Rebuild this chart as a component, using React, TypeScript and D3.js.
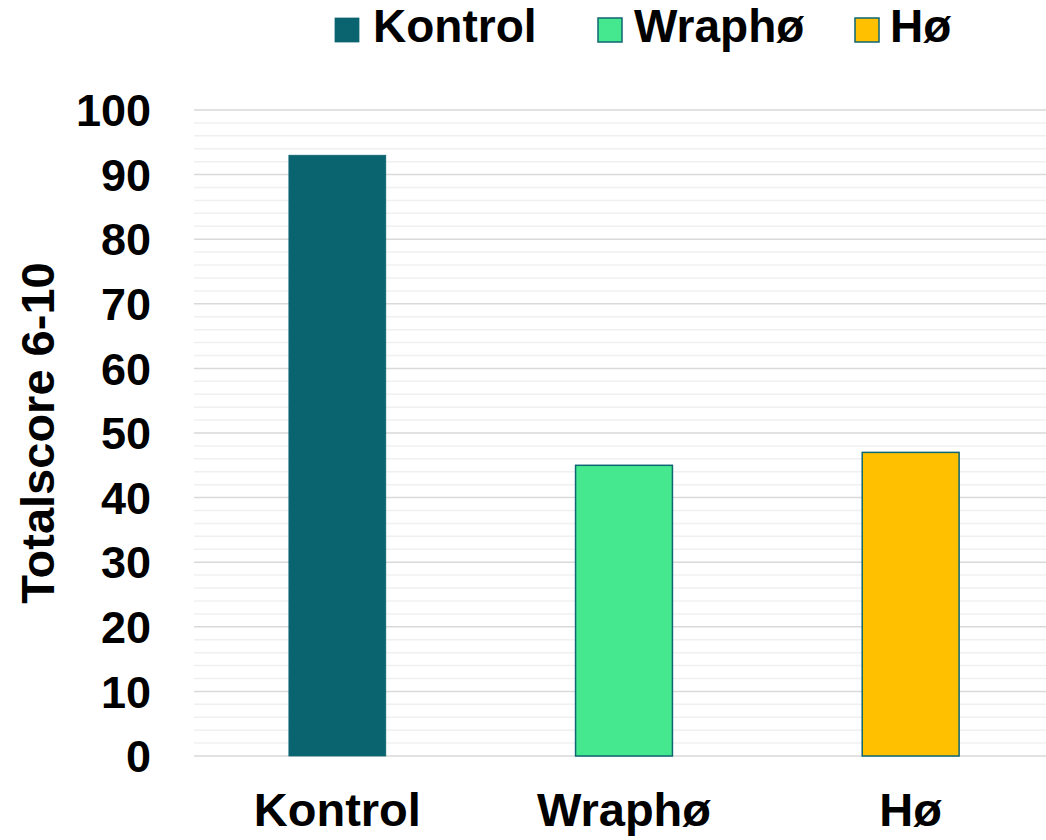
import React from "react";
import * as d3 from "d3";

const categories = ["Kontrol", "Wraphø", "Hø"];
const values = [93, 45, 47];
const colors = ["#0A6470", "#45E88F", "#FFC000"];
const strokes = ["#0A6470", "#0E6673", "#0E6673"];
const majorTicks = [0, 10, 20, 30, 40, 50, 60, 70, 80, 90, 100];
const minorTicks = d3.range(0, 101, 2);
const yTitle = "Totalscore 6-10";

const W = 1046;
const H = 840;
const FONT = "'Liberation Sans', Arial, sans-serif";

export default function App() {
  const x = d3
    .scaleBand<string>()
    .domain(categories)
    .range([194, 1054])
    .paddingInner(0.662)
    .paddingOuter(0.331);
  const y = d3.scaleLinear().domain([0, 100]).range([756, 110]);

  const legendItems = [
    { sq: 335, tx: 373 },
    { sq: 598, tx: 634 },
    { sq: 855, tx: 890 },
  ];

  return (
    <svg
      width={W}
      height={H}
      style={{ position: "absolute", left: 0, top: 0, background: "#fff" }}
      fontFamily={FONT}
    >
      {minorTicks
        .filter((t) => t % 10 !== 0)
        .map((t) => (
          <line key={"m" + t} x1={194} x2={W} y1={y(t)} y2={y(t)} stroke="#F0F0F0" strokeWidth={1.5} />
        ))}
      {majorTicks.map((t) => (
        <line key={"g" + t} x1={194} x2={W} y1={y(t)} y2={y(t)} stroke="#D9D9D9" strokeWidth={1.5} />
      ))}
      {categories.map((c, i) => (
        <rect
          key={c}
          x={x(c)}
          y={y(values[i])}
          width={x.bandwidth()}
          height={y(0) - y(values[i])}
          fill={colors[i]}
          stroke={strokes[i]}
          strokeWidth={i === 0 ? 0.75 : 1.5}
        />
      ))}
      {majorTicks.map((t) => (
        <text
          key={"t" + t}
          x={151}
          y={y(t)}
          dy="0.36em"
          textAnchor="end"
          fontSize={45}
          fontWeight="bold"
          fill="#000"
        >
          {t}
        </text>
      ))}
      {categories.map((c) => (
        <text
          key={"c" + c}
          x={(x(c) as number) + x.bandwidth() / 2}
          y={826}
          textAnchor="middle"
          fontSize={47}
          fontWeight="bold"
          fill="#000"
        >
          {c}
        </text>
      ))}
      <text
        transform="translate(54,433) rotate(-90)"
        textAnchor="middle"
        fontSize={47}
        fontWeight="bold"
        fill="#000"
      >
        {yTitle}
      </text>
      {categories.map((c, i) => (
        <g key={"l" + c}>
          <rect
            x={legendItems[i].sq}
            y={18}
            width={24}
            height={24}
            fill={colors[i]}
            stroke={strokes[i]}
            strokeWidth={i === 0 ? 0.75 : 1.5}
          />
          <text x={legendItems[i].tx} y={42} fontSize={46} fontWeight="bold" fill="#000">
            {c}
          </text>
        </g>
      ))}
    </svg>
  );
}
